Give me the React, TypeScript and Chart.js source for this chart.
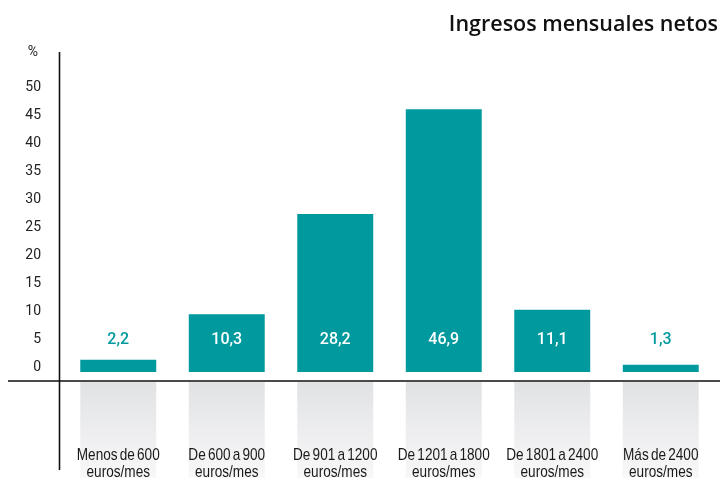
import React, { useEffect, useRef } from "react";
import { Chart, registerables } from "chart.js";

Chart.register(...registerables);

const categories: string[][] = [
  ["Menos de 600", "euros/mes"],
  ["De 600 a 900", "euros/mes"],
  ["De 901 a 1200", "euros/mes"],
  ["De 1201 a 1800", "euros/mes"],
  ["De 1801 a 2400", "euros/mes"],
  ["Más de 2400", "euros/mes"],
];
const values: number[] = [2.2, 10.3, 28.2, 46.9, 11.1, 1.3];
const valueLabels: string[] = ["2,2", "10,3", "28,2", "46,9", "11,1", "1,3"];
const yMin = 0;
const yMax = 50;
const yStep = 5;
const title = "Ingresos mensuales netos";
const unitLabel = "%";

const TEAL = "#009a9e";
const LABEL_FONT = '17px "Liberation Sans", Arial, sans-serif';

const decorPlugin = {
  id: "decor",
  beforeDatasetsDraw(chart: any) {
    const { ctx, chartArea } = chart;
    const meta = chart.getDatasetMeta(0);
    const yZero = chart.scales.y.getPixelForValue(0);
    ctx.save();
    // gray gradient panels under each bar
    meta.data.forEach((bar: any) => {
      const { x, width } = bar.getProps(["x", "width"], true);
      const top = yZero + 10;
      const g = ctx.createLinearGradient(0, top, 0, chart.height);
      g.addColorStop(0, "#e1e2e4");
      g.addColorStop(1, "#f8f8f9");
      ctx.fillStyle = g;
      ctx.fillRect(x - width / 2, top, width, chart.height - top);
    });
    // horizontal baseline
    ctx.strokeStyle = "#4a4a4a";
    ctx.lineWidth = 2;
    ctx.beginPath();
    ctx.moveTo(8, yZero + 9);
    ctx.lineTo(chart.width, yZero + 9);
    ctx.stroke();
    // vertical axis line
    const ax = chartArea.left - 4.5;
    ctx.strokeStyle = "#111";
    ctx.lineWidth = 1.6;
    ctx.beginPath();
    ctx.moveTo(ax, 52);
    ctx.lineTo(ax, 470);
    ctx.stroke();
    // category labels (condensed)
    ctx.fillStyle = "#1a1a1a";
    ctx.font = LABEL_FONT;
    ctx.textAlign = "center";
    ctx.textBaseline = "alphabetic";
    try { (ctx as any).wordSpacing = "-2px"; } catch (e) {}
    meta.data.forEach((bar: any, i: number) => {
      const { x } = bar.getProps(["x"], true);
      categories[i].forEach((ln, j) => {
        ctx.save();
        ctx.translate(x, yZero + 88 + j * 17);
        ctx.scale(0.8, 1);
        ctx.fillText(ln, 0, 0);
        ctx.restore();
      });
    });
    ctx.restore();
  },
  afterDatasetsDraw(chart: any) {
    const { ctx, chartArea } = chart;
    const meta = chart.getDatasetMeta(0);
    const yZero = chart.scales.y.getPixelForValue(0);
    const labelY = yZero - 32;
    ctx.save();
    ctx.font = '500 16px Roboto, "Noto Sans", sans-serif';
    ctx.textAlign = "center";
    ctx.textBaseline = "middle";
    meta.data.forEach((bar: any, i: number) => {
      const { x, y } = bar.getProps(["x", "y"], true);
      ctx.fillStyle = y < labelY - 12 ? "#ffffff" : TEAL;
      ctx.fillText(valueLabels[i], x, labelY);
    });
    // unit label
    ctx.fillStyle = "#222";
    ctx.font = '14px Roboto, "Noto Sans", sans-serif';
    ctx.textAlign = "center";
    ctx.fillText(unitLabel, chartArea.left - 31, 52);
    // title
    ctx.fillStyle = "#111";
    ctx.font = '600 21.5px "Open Sans", "Noto Sans", sans-serif';
    ctx.textAlign = "right";
    ctx.textBaseline = "alphabetic";
    ctx.fillText(title, chart.width - 2, 31);
    ctx.restore();
  },
};

export default function App() {
  const ref = useRef<HTMLCanvasElement | null>(null);
  useEffect(() => {
    document.body.style.margin = "0";
    const canvas = ref.current;
    if (!canvas) return;
    const chart = new Chart(canvas, {
      type: "bar",
      data: {
        labels: categories.map((c) => c.join(" ")),
        datasets: [
          {
            data: values,
            backgroundColor: TEAL,
            borderWidth: 0,
            barPercentage: 0.7,
            categoryPercentage: 1,
          },
        ],
      },
      options: {
        responsive: false,
        animation: false,
        devicePixelRatio: 1,
        layout: { padding: { left: 0, right: 5, top: 92, bottom: 106 } },
        plugins: {
          legend: { display: false },
          tooltip: { enabled: false },
          title: { display: false },
        },
        scales: {
          x: { display: false, offset: true },
          y: {
            position: "left",
            min: yMin,
            max: yMax,
            grid: { display: false, drawTicks: false },
            border: { display: false },
            ticks: {
              stepSize: yStep,
              padding: 23,
              labelOffset: -5,
              color: "#222",
              font: { family: 'Roboto, "Noto Sans", sans-serif', size: 14 },
            },
            afterFit(scale: any) {
              scale.width = 64;
            },
          },
        },
      },
      plugins: [decorPlugin],
    } as any);
    return () => chart.destroy();
  }, []);
  return (
    <div style={{ position: "absolute", left: 0, top: 0, width: 720, height: 478 }}>
      <canvas ref={ref} width={720} height={478} />
    </div>
  );
}
